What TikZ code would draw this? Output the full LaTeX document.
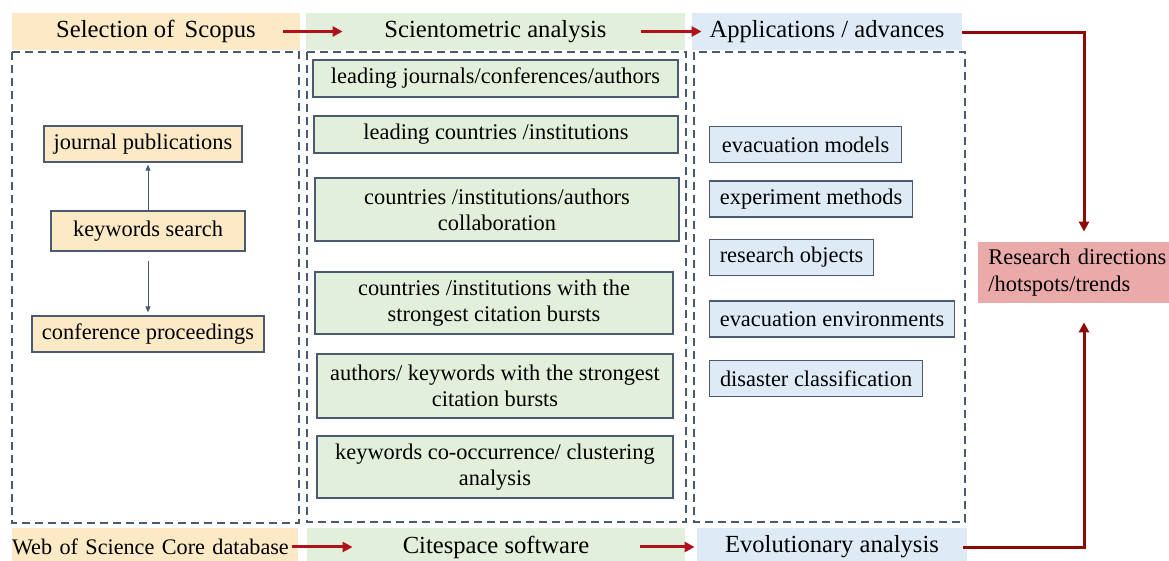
\documentclass[tikz,border=0pt]{standalone}
\usepackage{fontspec}
\setmainfont{Liberation Serif}
\usepackage{xcolor}
\usetikzlibrary{arrows.meta}
\usetikzlibrary{positioning}
\definecolor{yelfill}{HTML}{FCE9C6}
\definecolor{grnfill}{HTML}{E2EFDA}
\definecolor{blufill}{HTML}{DEEBF7}
\definecolor{pinkfill}{HTML}{EAAAAA}
\definecolor{boxline}{HTML}{4A5A70}
\definecolor{arrred}{HTML}{B0121B}
\definecolor{darkred}{HTML}{8E0A0A}
\tikzset{band/.style = {inner sep=0, font=\fontsize{12.3}{14}\selectfont, minimum height=18.5pt}}
\tikzset{box/.style = {draw=boxline, line width=0.6pt, inner sep=0, font=\fontsize{11.2}{13}\selectfont, align=center}}
\tikzset{ybox/.style = {box, fill=yelfill, minimum height=18pt}}
\tikzset{gbox/.style = {box, fill=grnfill}}
\tikzset{bbox/.style = {box, fill=blufill, anchor=west, minimum height=18pt}}
\tikzset{frame/.style = {draw=boxline, line width=0.8pt, dash pattern=on 4pt off 2.5pt}}
\tikzset{redarr/.style = {draw=arrred, line width=1.5pt, -{Triangle[length=5pt,width=5pt]}}}
\tikzset{darkarr/.style = {draw=darkred, line width=1.5pt, -{Triangle[length=5pt,width=5pt]}}}
\tikzset{thinarr/.style = {draw=boxline, line width=0.4pt, -{Triangle[length=3pt,width=2.5pt]}}}

\begin{document}
\begin{tikzpicture}[x=0.5pt,y=-0.5pt]
    \useasboundingbox (0,0) rectangle (1169,561);
    % header row
    \node[band, fill=yelfill, minimum width=144pt] (sel) at (156,31.5) {Selection of\, Scopus};
    \node[band, fill=grnfill, minimum width=189.5pt] (sci) at (495.5,31.5) {Scientometric analysis};
    \node[band, fill=blufill, minimum width=135pt] (app) at (827,31.5) {Applications / advances};
    % footer row
    \node[band, fill=yelfill, minimum height=19pt, text width=143pt, align=left, font=\fontsize{11.1}{13}\selectfont] (wos) at (155,547) {Web of Science Core database};
    \node[band, fill=grnfill, minimum height=19pt, minimum width=189pt] (cite) at (496,547) {Citespace software};
    \node[band, fill=blufill, minimum height=19pt, minimum width=135pt] (evo) at (832,547) {Evolutionary analysis};
    \draw[frame] (12,52) rectangle (299,523);
    \draw[frame] (307,52) rectangle (686,522);
    \draw[frame] (694,52) rectangle (965,522);
    % left column
    \node[ybox, minimum width=99pt] (jp) at (143,144) {journal publications};
    \node[ybox, minimum width=97pt, minimum height=20pt] (ks) at (148,231) {keywords search};
    \node[ybox, minimum width=116pt] (cp) at (148,334) {conference proceedings};
    \draw[thinarr, shorten >=1pt] (ks.north) -- (ks.north |- jp.south);
    \draw[thinarr, shorten <=4.5pt, shorten >=1.5pt] (ks.south) -- (ks.south |- cp.north);
    % middle column
    \node[gbox, minimum width=182.5pt, minimum height=18.5pt] (m1) at (495.5,78.5) {leading journals/conferences/authors};
    \node[gbox, minimum width=182pt, minimum height=18.5pt] (m2) at (496,134.5) {leading countries /institutions};
    \node[gbox, minimum width=182pt, minimum height=31.5pt] (m3) at (497,209.5) {countries /institutions/authors\\collaboration};
    \node[gbox, minimum width=179pt, minimum height=31pt] (m4) at (494,303) {countries /institutions with the\\strongest citation bursts};
    \node[gbox, minimum width=178pt, minimum height=32pt] (m5) at (495,386) {authors/ keywords with the strongest\\citation bursts};
    \node[gbox, minimum width=178pt, minimum height=31pt] (m6) at (495,467) {keywords co-occurrence/ clustering\\analysis};
    % right column
    \node[bbox, minimum width=96pt] (r1) at (709,144.5) {evacuation models};
    \node[bbox, minimum width=101.5pt] (r2) at (709,199) {experiment methods};
    \node[bbox, minimum width=82pt] (r3) at (709,257.5) {research objects};
    \node[bbox, minimum width=122.5pt] (r4) at (709,319) {evacuation environments};
    \node[bbox, minimum width=106.5pt] (r5) at (709,378.5) {disaster classification};
    \node[fill=pinkfill, anchor=west, inner xsep=5pt, inner ysep=0, text width=100pt, minimum height=30.5pt, align=left, font=\fontsize{11.2}{13.5}\selectfont] (res) at (978,272.5) {Research directions\\/hotspots/trends};
    % flow arrows
    \draw[redarr] ([xshift=-8.5pt]sel.east) -- ([xshift=18.5pt]sci.west);
    \draw[redarr] ([xshift=-22pt]sci.east) -- ([xshift=5pt]app.west);
    \draw[redarr] ([xshift=-3pt]wos.east) -- ([xshift=23pt]cite.west);
    \draw[redarr] ([xshift=-22.5pt]cite.east) -- ([xshift=-1pt]evo.west);
    \coordinate (tr) at (1084,32.5);
    \coordinate (br) at (1084,547.5);
    \draw[darkarr, shorten >=5pt] (app.east |- tr) -- (tr) -- (tr |- res.north);
    \draw[darkarr, shorten >=9.5pt] ([xshift=-2pt]evo.east |- br) -- (br) -- (br |- res.south);
\end{tikzpicture}
\end{document}
